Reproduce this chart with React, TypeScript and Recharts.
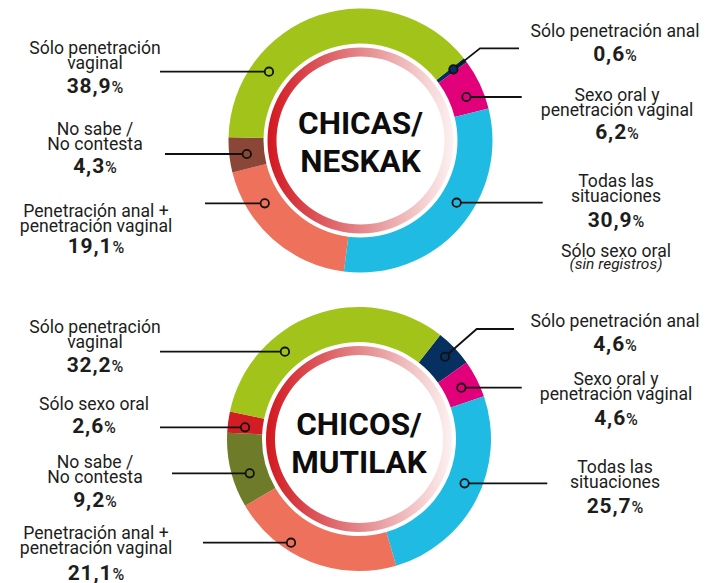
import React from "react";
import { PieChart, Pie, Cell } from "recharts";

// Chicas / Neskak — slices in clockwise order, starting at the small dark-blue one
const TOP_LABELS = [
  ["Sólo penetración anal"],
  ["Sexo oral y", "penetración vaginal"],
  ["Todas las", "situaciones"],
  ["Penetración anal +", "penetración vaginal"],
  ["No sabe /", "No contesta"],
  ["Sólo penetración", "vaginal"],
];
const TOP_VALUES = [0.6, 6.2, 30.9, 19.1, 4.3, 38.9];
const TOP_TITLE = ["CHICAS/", "NESKAK"];
const TOP_NOTE = ["Sólo sexo oral", "(sin registros)"];

// Chicos / Mutilak
const BOTTOM_LABELS = [
  ["Sólo penetración anal"],
  ["Sexo oral y", "penetración vaginal"],
  ["Todas las", "situaciones"],
  ["Penetración anal +", "penetración vaginal"],
  ["No sabe /", "No contesta"],
  ["Sólo sexo oral"],
  ["Sólo penetración", "vaginal"],
];
const BOTTOM_VALUES = [4.6, 4.6, 25.7, 21.1, 9.2, 2.6, 32.2];
const BOTTOM_TITLE = ["CHICOS/", "MUTILAK"];

const TOP_COLORS = ["#06305f", "#e2007a", "#1fbbe2", "#ee725b", "#8a4636", "#a2c41a"];
const BOTTOM_COLORS = ["#06305f", "#e2007a", "#1fbbe2", "#ee725b", "#6e7b29", "#d21d24", "#a2c41a"];

const INK = "#1d1d1b";
const FONT = "Roboto, 'Open Sans', sans-serif";
const LABEL_SIZE = 17.6;
const LINE = 15;
const RAD = Math.PI / 180;

interface Callout {
  side: 1 | -1;
  leaderY?: number;
  elbow?: [number, number];
  edgeX: number;
  textX: number;
  firstBaseline: number;
  valueBaseline: number;
  markerR?: number;
}

const TOP_LAYOUT: Callout[] = [
  { side: 1, elbow: [480, 48.3], edgeX: 519, textX: 615, firstBaseline: 36.7, valueBaseline: 60.7, markerR: 117 },
  { side: 1, leaderY: 97, edgeX: 521.7, textX: 617, firstBaseline: 100.7, valueBaseline: 139.3 },
  { side: 1, leaderY: 202.7, edgeX: 542.7, textX: 616, firstBaseline: 187.3, valueBaseline: 227.3 },
  { side: -1, leaderY: 203.3, edgeX: 205, textX: 96, firstBaseline: 216.7, valueBaseline: 253.3 },
  { side: -1, leaderY: 154, edgeX: 165, textX: 95, firstBaseline: 135, valueBaseline: 173.3 },
  { side: -1, leaderY: 71.7, edgeX: 160, textX: 95, firstBaseline: 53.5, valueBaseline: 92.7 },
];

const BOTTOM_LAYOUT: Callout[] = [
  { side: 1, elbow: [476.7, 329], edgeX: 514, textX: 615, firstBaseline: 326.7, valueBaseline: 350.7, markerR: 119 },
  { side: 1, leaderY: 387.7, edgeX: 521.7, textX: 616, firstBaseline: 385, valueBaseline: 425 },
  { side: 1, leaderY: 483.3, edgeX: 547.3, textX: 615, firstBaseline: 473.3, valueBaseline: 513.3 },
  { side: -1, leaderY: 542.7, edgeX: 203, textX: 96, firstBaseline: 539.3, valueBaseline: 580, markerR: 124 },
  { side: -1, leaderY: 473.3, edgeX: 172, textX: 95, firstBaseline: 468.3, valueBaseline: 506.7 },
  { side: -1, leaderY: 427.3, edgeX: 160, textX: 94, firstBaseline: 410, valueBaseline: 433.3 },
  { side: -1, leaderY: 351.7, edgeX: 160, textX: 95, firstBaseline: 332.7, valueBaseline: 371.7 },
];

function fmt(v: number): string {
  return v.toFixed(1).replace(".", ",");
}

function calloutLabel(lines: string[][], values: number[], colors: string[], layout: Callout[]) {
  return function CalloutLabel(props: any) {
    const { cx, cy, midAngle, innerRadius, outerRadius, index } = props;
    const c = layout[index];
    const r = c.markerR ?? (innerRadius + outerRadius) / 2;
    let mx: number;
    let my: number;
    let path: string;
    if (c.elbow) {
      // marker sits on the slice's mid angle, leader bends to the label
      mx = cx + r * Math.cos(-midAngle * RAD);
      my = cy + r * Math.sin(-midAngle * RAD);
      path = `M${mx},${my}L${c.elbow[0]},${c.elbow[1]}L${c.edgeX},${c.elbow[1]}`;
    } else {
      my = c.leaderY as number;
      const d = my - cy;
      mx = cx + c.side * Math.sqrt(Math.max(r * r - d * d, 0));
      path = `M${mx},${my}L${c.edgeX},${my}`;
    }
    return (
      <g key={`callout-${index}`}>
        <path d={path} stroke="#111" strokeWidth={1.8} fill="none" />
        <circle cx={mx} cy={my} r={4.2} fill={colors[index]} stroke="#111" strokeWidth={1.8} />
        <text textAnchor="middle" fontFamily={FONT} fontSize={LABEL_SIZE} fill={INK}>
          {lines[index].map((t, i) => (
            <tspan key={i} x={c.textX} y={c.firstBaseline + i * LINE}>
              {t}
            </tspan>
          ))}
        </text>
        <text x={c.textX} y={c.valueBaseline} textAnchor="middle" fontFamily={FONT} fill={INK}>
          <tspan fontSize={21} fontWeight={700} letterSpacing={0.9}>
            {fmt(values[index])}
          </tspan>
          <tspan fontSize={16} fontWeight={500}>%</tspan>
        </text>
      </g>
    );
  };
}

function titleLabel(lines: string[], offsets: number[]) {
  return function TitleLabel(props: any) {
    return (
      <text key="title" textAnchor="middle" fontFamily={FONT} fontWeight={700} fontSize={31.5} fill="#0d0d0d">
        {lines.map((t, i) => (
          <tspan key={i} x={props.cx} y={props.cy + offsets[i]}>
            {t}
          </tspan>
        ))}
      </text>
    );
  };
}

const topData = TOP_VALUES.map((value, i) => ({ name: TOP_LABELS[i].join(" "), value }));
const bottomData = BOTTOM_VALUES.map((value, i) => ({ name: BOTTOM_LABELS[i].join(" "), value }));
const ringData = [{ name: "ring", value: 1 }];

export default function App() {
  return (
    <div style={{ position: "absolute", left: 0, top: 0, background: "#fff" }}>
      <PieChart width={705} height={583} margin={{ top: 0, right: 0, bottom: 0, left: 0 }}>
        <defs>
          <linearGradient id="ringFade" x1="0" y1="0" x2="1" y2="0">
            <stop offset="0%" stopColor="#d2181f" />
            <stop offset="50%" stopColor="#e3878a" />
            <stop offset="100%" stopColor="#fdf2f2" />
          </linearGradient>
        </defs>

        <Pie
          data={ringData}
          dataKey="value"
          cx={360.5}
          cy={140.5}
          innerRadius={84}
          outerRadius={93}
          startAngle={90}
          endAngle={-270}
          stroke="none"
          fill="url(#ringFade)"
          label={titleLabel(TOP_TITLE, [-7, 31])}
          labelLine={false}
          isAnimationActive={false}
        />
        <Pie
          data={topData}
          dataKey="value"
          cx={360.5}
          cy={140.5}
          innerRadius={97}
          outerRadius={132}
          startAngle={38.5}
          endAngle={-321.5}
          stroke="none"
          label={calloutLabel(TOP_LABELS, TOP_VALUES, TOP_COLORS, TOP_LAYOUT)}
          labelLine={false}
          isAnimationActive={false}
        >
          {topData.map((d, i) => (
            <Cell key={d.name} fill={TOP_COLORS[i]} />
          ))}
        </Pie>

        <Pie
          data={ringData}
          dataKey="value"
          cx={359}
          cy={439}
          innerRadius={84}
          outerRadius={93}
          startAngle={90}
          endAngle={-270}
          stroke="none"
          fill="url(#ringFade)"
          label={titleLabel(BOTTOM_TITLE, [-4, 34])}
          labelLine={false}
          isAnimationActive={false}
        />
        <Pie
          data={bottomData}
          dataKey="value"
          cx={359}
          cy={439}
          innerRadius={97}
          outerRadius={132}
          startAngle={52}
          endAngle={-308}
          stroke="none"
          label={calloutLabel(BOTTOM_LABELS, BOTTOM_VALUES, BOTTOM_COLORS, BOTTOM_LAYOUT)}
          labelLine={false}
          isAnimationActive={false}
        >
          {bottomData.map((d, i) => (
            <Cell key={d.name} fill={BOTTOM_COLORS[i]} />
          ))}
        </Pie>

        <text textAnchor="middle" fontFamily={FONT} fill={INK}>
          <tspan x={616} y={256.7} fontSize={LABEL_SIZE}>
            {TOP_NOTE[0]}
          </tspan>
          <tspan x={616} y={269} fontSize={15.5} fontStyle="italic">
            {TOP_NOTE[1]}
          </tspan>
        </text>
      </PieChart>
    </div>
  );
}
